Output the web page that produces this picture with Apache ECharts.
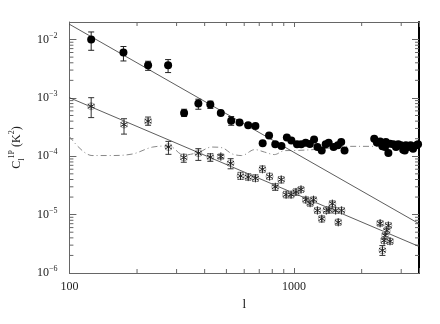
<!DOCTYPE html>
<html>
<head>
<meta charset="utf-8">
<script src="https://cdn.jsdelivr.net/npm/echarts/dist/echarts.min.js"></script>
<style>
html,body{margin:0;padding:0;background:#fff}
#myChart{width:440px;height:324px}
</style>
</head>
<body>
<div id="myChart"></div>
<script>
// filled circles: multipole l, C_l, error bar low / high (null = bar hidden under the dot)
var circX = [125, 174, 224, 275, 324, 375, 424, 472, 525, 572, 625, 673, 725, 774, 825, 879, 929, 973,
  1031, 1077, 1127, 1176, 1228, 1271, 1328, 1383, 1426, 1500, 1567, 1622, 1678,
  2275, 2338, 2417, 2474, 2541, 2563, 2630, 2675, 2767, 2844, 2911, 2992, 3062, 3112, 3147, 3221, 3302, 3388, 3508, 3565];
var circY = [0.0100, 0.0060, 0.00362, 0.00362, 0.00055, 0.00080, 0.00077, 0.00055, 0.000405, 0.00038, 0.00034, 0.00033,
  0.000168, 0.000226, 0.00016, 0.00015, 0.00021, 0.000187, 0.00016, 0.00016, 0.000171, 0.000162, 0.000193, 0.000144,
  0.000126, 0.00016, 0.00017, 0.000144, 0.000154, 0.000175, 0.000126,
  0.000199, 0.000173, 0.00018, 0.000148, 0.000144, 0.000175, 0.000114, 0.000164, 0.00016, 0.000144, 0.00016,
  0.000154, 0.00013, 0.000126, 0.000154, 0.000144, 0.000154, 0.000135, 0.000154, 0.00016];
var circLo = [0.00655, 0.0043, 0.00297, 0.00272, 0.00048, 0.00064, 0.00066, null, 0.00034];
var circHi = [0.0135, 0.0076, 0.00425, 0.00454, 0.00064, 0.00095, 0.00088, null, 0.00048];

// asterisks
var starX = [125, 175, 224, 276, 323, 375, 424, 472, 522, 578, 625, 673, 723, 778, 825, 877, 922, 970,
  1020, 1074, 1129, 1179, 1221, 1271, 1329, 1393, 1431, 1481, 1531, 1573, 1627,
  2417, 2630, 2587, 2545, 2518, 2675, 2474];
var starY = [7.2e-4, 3.5e-4, 4.0e-4, 1.44e-4, 9.5e-5, 1.13e-4, 9.7e-5, 9.9e-5, 7.6e-5, 4.6e-5, 4.4e-5, 4.2e-5,
  6.0e-5, 4.5e-5, 3.0e-5, 4.0e-5, 2.2e-5, 2.2e-5, 2.45e-5, 2.7e-5, 1.8e-5, 1.57e-5, 1.8e-5, 1.18e-5,
  8.5e-6, 1.18e-5, 1.21e-5, 1.54e-5, 1.18e-5, 7.4e-6, 1.18e-5,
  7.1e-6, 6.5e-6, 5.3e-6, 4.4e-6, 3.6e-6, 3.5e-6, 2.45e-6];
var starLo = [4.6e-4, 2.4e-4, 3.4e-4, 1.08e-4, 7.9e-5, 8.5e-5, 8.2e-5, 9.0e-5, 6.1e-5, 4.0e-5, 3.9e-5, 3.7e-5,
  5.3e-5, 4.0e-5, 2.6e-5, 3.5e-5, 1.95e-5, 1.95e-5, 2.15e-5, 2.4e-5, 1.6e-5, 1.4e-5, 1.6e-5, 1.05e-5,
  7.5e-6, 1.05e-5, 1.07e-5, 1.37e-5, 1.05e-5, 6.6e-6, 1.05e-5,
  6.4e-6, 5.8e-6, 4.7e-6, 3.9e-6, 3.2e-6, 3.1e-6, 2.0e-6];
var starHi = [1.01e-3, 4.4e-4, 4.7e-4, 1.8e-4, 1.08e-4, 1.35e-4, 1.11e-4, 1.08e-4, 9.1e-5, 5.3e-5, 5.0e-5, 4.8e-5,
  6.8e-5, 5.1e-5, 3.4e-5, 4.5e-5, 2.5e-5, 2.5e-5, 2.75e-5, 3.0e-5, 2.0e-5, 1.75e-5, 2.0e-5, 1.32e-5,
  9.5e-6, 1.32e-5, 1.36e-5, 1.72e-5, 1.32e-5, 8.3e-6, 1.32e-5,
  7.9e-6, 7.3e-6, 5.9e-6, 4.9e-6, 4.0e-6, 3.9e-6, 2.95e-6];

// power-law fits (end points)
var fitUpX = [100, 3600];
var fitUpY = [0.0183, 7.0e-6];
var fitLowX = [100, 3600];
var fitLowY = [1.01e-3, 2.85e-6];

// dash-dot curve
var curveX = [100, 126, 150, 190, 235, 277, 323, 376, 430, 478, 530, 584, 669, 739, 818, 906, 1035, 1316, 1700, 2200, 3600];
var curveY = [2.2e-4, 1.03e-4, 1.03e-4, 1.09e-4, 1.44e-4, 1.5e-4, 1.05e-4, 1.17e-4, 1.44e-4, 1.4e-4, 1.1e-4, 1.03e-4,
  1.3e-4, 1.18e-4, 1.07e-4, 1.25e-4, 1.26e-4, 1.33e-4, 1.48e-4, 1.48e-4, 1.48e-4];

// axes
var xMin = 100, xMax = 3600;
var yMin = 1e-6, yMax = 0.02;
var xMinor = [200, 300, 400, 500, 600, 700, 800, 900, 2000, 3000];
var yMinor = [];
for (var e = -6; e <= -3; e++) {
  for (var m = 2; m <= 9; m++) yMinor.push(m * Math.pow(10, e));
}

function zip(a, b, c, d) {
  return a.map(function (v, i) { return [v, b[i], c ? c[i] : null, d ? d[i] : null]; });
}

var FONT = '"Liberation Serif", "DejaVu Serif", serif';

function errBar(p, api, lo, hi, color) {
  var out = [];
  if (lo == null || isNaN(lo)) return out;
  var a = api.coord([api.value(0), lo]);
  var b = api.coord([api.value(0), hi]);
  var st = { stroke: color, lineWidth: 1 };
  out.push({ type: 'line', shape: { x1: p[0], y1: a[1], x2: p[0], y2: b[1] }, style: st });
  out.push({ type: 'line', shape: { x1: p[0] - 3, y1: a[1], x2: p[0] + 3, y2: a[1] }, style: st });
  out.push({ type: 'line', shape: { x1: p[0] - 3, y1: b[1], x2: p[0] + 3, y2: b[1] }, style: st });
  return out;
}

function renderCircBars(params, api) {
  var p = api.coord([api.value(0), api.value(1)]);
  return { type: 'group', children: errBar(p, api, api.value(2), api.value(3), '#222') };
}

function renderStar(params, api) {
  var p = api.coord([api.value(0), api.value(1)]);
  var kids = errBar(p, api, api.value(2), api.value(3), '#333');
  var r = 4, st = { stroke: '#222', lineWidth: 1 };
  kids.push({ type: 'circle', shape: { cx: p[0], cy: p[1], r: 3.5 }, style: { fill: 'none', stroke: '#aaa', lineWidth: 1 } });
  kids.push({ type: 'line', shape: { x1: p[0], y1: p[1] - r, x2: p[0], y2: p[1] + r }, style: st });
  kids.push({ type: 'line', shape: { x1: p[0] - 3.4, y1: p[1] - 2, x2: p[0] + 3.4, y2: p[1] + 2 }, style: st });
  kids.push({ type: 'line', shape: { x1: p[0] - 3.4, y1: p[1] + 2, x2: p[0] + 3.4, y2: p[1] - 2 }, style: st });
  return { type: 'group', children: kids };
}

function renderYMinor(params, api) {
  var c = params.coordSys;
  var y = api.coord([xMin, api.value(1)])[1];
  var st = { stroke: '#666', lineWidth: 1 };
  return { type: 'group', children: [
    { type: 'line', shape: { x1: c.x, y1: y, x2: c.x + 4, y2: y }, style: st },
    { type: 'line', shape: { x1: c.x + c.width - 4, y1: y, x2: c.x + c.width, y2: y }, style: st }
  ] };
}

function renderXMinor(params, api) {
  var c = params.coordSys;
  var x = api.coord([api.value(0), yMin])[0];
  var st = { stroke: '#666', lineWidth: 1 };
  return { type: 'group', children: [
    { type: 'line', shape: { x1: x, y1: c.y + c.height, x2: x, y2: c.y + c.height - 4 }, style: st },
    { type: 'line', shape: { x1: x, y1: c.y, x2: x, y2: c.y + 4 }, style: st }
  ] };
}

function powLabel(v) {
  var e = Math.log10(v);
  if (Math.abs(e - Math.round(e)) > 1e-6) return '';
  return '{b|10}{e|\u2212' + Math.abs(Math.round(e)) + '}';
}

var myChart = echarts.init(document.getElementById('myChart'), null, { renderer: 'canvas' });
myChart.setOption({
  animation: false,
  backgroundColor: '#fff',
  textStyle: { fontFamily: FONT },
  grid: { left: 66, right: 21, top: 22, bottom: 51 },
  xAxis: [{
    type: 'log', min: xMin, max: xMax, logBase: 10,
    name: 'l', nameLocation: 'middle', nameGap: 23,
    nameTextStyle: { fontFamily: FONT, fontSize: 13, color: '#111' },
    axisLine: { lineStyle: { color: '#666', width: 1 } },
    axisTick: { inside: true, length: 5, lineStyle: { color: '#666' } },
    axisLabel: { fontFamily: FONT, fontSize: 12, color: '#222', margin: 8,
      formatter: function (v) { var e = Math.log10(v); return Math.abs(e - Math.round(e)) < 1e-6 ? String(Math.round(v)) : ''; } },
    splitLine: { show: false }
  }, {
    type: 'log', min: xMin, max: xMax, logBase: 10, position: 'top',
    axisLine: { lineStyle: { color: '#666', width: 1 } },
    axisTick: { inside: true, length: 5, lineStyle: { color: '#666' } },
    axisLabel: { show: false }, splitLine: { show: false }
  }],
  yAxis: [{
    type: 'log', min: yMin, max: yMax, logBase: 10,
    name: '{c|C}{sub|l}{sup|1P} {c|(K}{sup|2}{c|)}', nameLocation: 'middle', nameRotate: 90, nameGap: 38,
    nameTextStyle: { fontFamily: FONT, color: '#222',
      rich: {
        c: { fontFamily: FONT, fontSize: 12, color: '#222', lineHeight: 18 },
        sub: { fontFamily: FONT, fontSize: 8, color: '#222', verticalAlign: 'bottom', lineHeight: 18 },
        sup: { fontFamily: FONT, fontSize: 8, color: '#222', verticalAlign: 'top', lineHeight: 18 }
      } },
    axisLine: { lineStyle: { color: '#666', width: 1 } },
    axisTick: { inside: true, length: 7, lineStyle: { color: '#666' } },
    axisLabel: { margin: 12, formatter: powLabel,
      rich: {
        b: { fontFamily: FONT, fontSize: 12, color: '#222', lineHeight: 16 },
        e: { fontFamily: FONT, fontSize: 8, color: '#222', verticalAlign: 'top', lineHeight: 16 }
      } },
    splitLine: { show: false }
  }, {
    type: 'log', min: yMin, max: yMax, logBase: 10, position: 'right',
    axisLine: { lineStyle: { color: '#000', width: 2 } },
    axisTick: { inside: true, length: 7, lineStyle: { color: '#666' } },
    axisLabel: { show: false }, splitLine: { show: false }
  }],
  series: [
    { type: 'custom', renderItem: renderYMinor, data: yMinor.map(function (v) { return [xMin, v]; }), silent: true, z: 1 },
    { type: 'custom', renderItem: renderXMinor, data: xMinor.map(function (v) { return [v, yMin]; }), silent: true, z: 1 },
    {
      name: 'model', type: 'line', data: zip(curveX, curveY).map(function (d) { return [d[0], d[1]]; }),
      showSymbol: false, smooth: 0.35, z: 2,
      lineStyle: { color: '#888', width: 1, type: [6, 3, 1, 3] }
    },
    {
      name: 'fitUp', type: 'line', data: zip(fitUpX, fitUpY).map(function (d) { return [d[0], d[1]]; }),
      showSymbol: false, z: 3, lineStyle: { color: '#333', width: 0.8 }
    },
    {
      name: 'fitLow', type: 'line', data: zip(fitLowX, fitLowY).map(function (d) { return [d[0], d[1]]; }),
      showSymbol: false, z: 3, lineStyle: { color: '#333', width: 0.8 }
    },
    { name: 'circBars', type: 'custom', renderItem: renderCircBars, data: zip(circX, circY, circLo, circHi), z: 4,
      encode: { x: 0, y: 1 } },
    {
      name: 'circ', type: 'scatter', data: zip(circX, circY).map(function (d) { return [d[0], d[1]]; }),
      symbol: 'circle', symbolSize: 8, z: 5, itemStyle: { color: '#000', opacity: 1 }
    },
    { name: 'star', type: 'custom', renderItem: renderStar, data: zip(starX, starY, starLo, starHi), z: 5,
      encode: { x: 0, y: 1 } }
  ]
});
</script>
</body>
</html>
